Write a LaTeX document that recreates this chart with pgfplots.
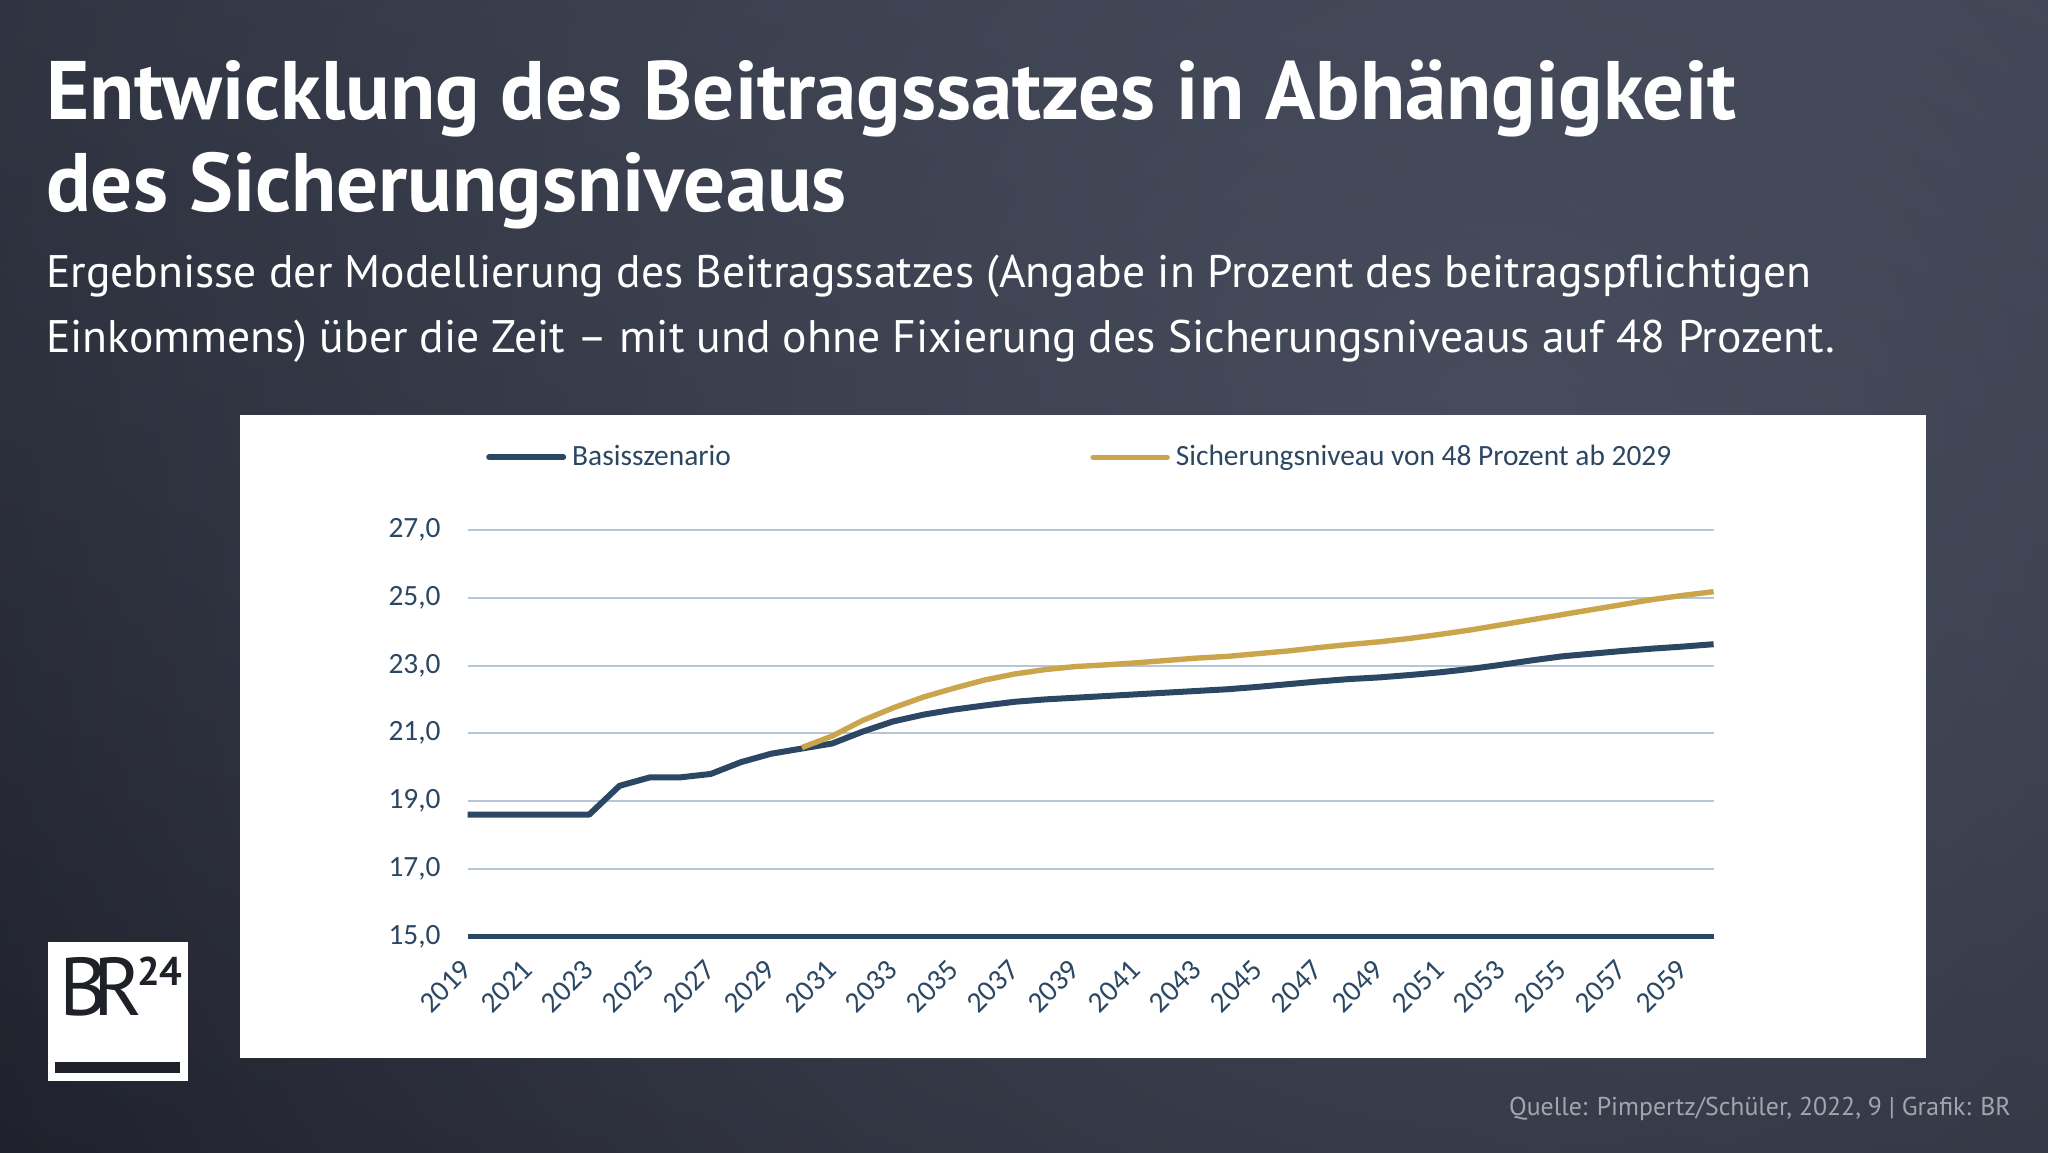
\documentclass[border=0pt]{standalone}
\usepackage{pgfplots}
\pgfplotsset{compat=1.18}
\usetikzlibrary{fadings,shadings}
\usepackage{fontspec}
\setmainfont{PT Sans}
\newfontfamily\carlito{Carlito}
\definecolor{navy}{HTML}{2C4763}
\definecolor{goldc}{HTML}{CBA54C}
\definecolor{gridc}{HTML}{B7C6D6}
\definecolor{spotc}{HTML}{4B5061}
\definecolor{cul}{HTML}{2D313E}
\definecolor{cur}{HTML}{3A3F4E}
\definecolor{cll}{HTML}{1C1E28}
\definecolor{clr}{HTML}{262833}
\definecolor{footc}{HTML}{A3A5AE}
\definecolor{logoc}{HTML}{1F2128}
\tikzfading[name=spotfade, inner color=transparent!0, outer color=transparent!100]
\begin{document}
\begin{tikzpicture}[x=1pt,y=1pt]
\clip (0,0) rectangle (1024,576);
\shade[upper left=cul, upper right=cur, lower left=cll, lower right=clr] (0,0) rectangle (1024,576);
\fill[spotc, path fading=spotfade, fill opacity=0.85] (751,360) circle (900);
% title
\node[anchor=base west, inner sep=0pt, text=white, font=\fontsize{41.5}{46}\selectfont\bfseries] at (22.9,516) {Entwicklung des Beitragssatzes in Abhängigkeit};
\node[anchor=base west, inner sep=0pt, text=white, font=\fontsize{41.5}{46}\selectfont\bfseries] at (22.9,470) {des Sicherungsniveaus};
\node[anchor=base west, inner sep=0pt, text=white, font=\fontsize{22.8}{26}\selectfont] at (22.9,432.3) {Ergebnisse der Modellierung des Beitragssatzes (Angabe in Prozent des beitragspflichtigen};
\node[anchor=base west, inner sep=0pt, text=white, font=\fontsize{22.8}{26}\selectfont] at (22.9,399.7) {Einkommens) über die Zeit – mit und ohne Fixierung des Sicherungsniveaus auf 48 Prozent.};
% footer
\node[anchor=base east, inner sep=0pt, text=footc, font=\fontsize{12.9}{15}\selectfont] at (1005.6,18.4) {Quelle: Pimpertz/Schüler, 2022, 9 | Grafik: BR};
% white panel
\fill[white] (120,47) rectangle (963,368.5);
% logo
\fill[white] (24,35.5) rectangle (94,105);
\fill[logoc] (27.5,39.5) rectangle (90,45);
\node[anchor=base west, inner sep=0pt, text=logoc, font=\fontsize{41}{46}\selectfont] at (29.5,68.5) {B\kern-7ptR};
\node[anchor=base west, inner sep=0pt, text=logoc, font=\fontsize{20}{22}\selectfont\bfseries] at (68.3,83.5) {24};
\begin{axis}[
  at={(233.8pt,107.7pt)}, anchor=south west,
  scale only axis, width=623pt, height=203.3pt,
  xmin=2019, xmax=2060, ymin=15, ymax=27,
  clip=false,
  axis x line*=bottom, axis y line*=left,
  x axis line style={navy, line width=2.5pt, -},
  y axis line style={draw=none},
  xtick={2019,2021,...,2059}, ytick={15,17,...,27},
  major tick length=0pt,
  ymajorgrids, grid style={gridc, line width=1pt},
  /pgf/number format/assume math mode=true,
  tick label style={font=\carlito\fontsize{14.7}{16}\selectfont, text=navy},
  yticklabel style={/pgf/number format/fixed, /pgf/number format/fixed zerofill, /pgf/number format/precision=1, /pgf/number format/use comma, xshift=-10pt},
  xticklabel style={/pgf/number format/1000 sep={}, xshift=-3.8pt, yshift=-5.9pt, rotate=45, anchor=north east},
  legend columns=2,
  legend style={at={(0.0146,1.179)}, anchor=west, draw=none, fill=none,
    font=\carlito\fontsize{14.7}{16}\selectfont, text=navy,
    inner sep=0pt,
    /tikz/every odd column/.append style={column sep=1pt},
    /tikz/every even column/.append style={column sep=177.8pt}},
  legend image code/.code={\draw[#1, line cap=round] (0pt,0pt) -- (37pt,0pt);},
]
\addplot[navy, line width=3pt, line join=round] table {
x y
2019 18.6
2020 18.6
2021 18.6
2022 18.6
2023 18.6
2024 19.45
2025 19.7
2026 19.7
2027 19.8
2028 20.15
2029 20.4
2030 20.55
2031 20.7
2032 21.05
2033 21.35
2034 21.55
2035 21.7
2036 21.82
2037 21.93
2038 22.0
2039 22.05
2040 22.1
2041 22.15
2042 22.2
2043 22.25
2044 22.3
2045 22.37
2046 22.45
2047 22.53
2048 22.6
2049 22.65
2050 22.72
2051 22.8
2052 22.9
2053 23.02
2054 23.15
2055 23.27
2056 23.35
2057 23.43
2058 23.5
2059 23.56
2060 23.63
};
\addlegendentry{Basisszenario}
\addplot[goldc, line width=2.7pt, line join=round] table {
x y
2030 20.58
2031 20.92
2032 21.38
2033 21.75
2034 22.07
2035 22.33
2036 22.57
2037 22.75
2038 22.88
2039 22.97
2040 23.02
2041 23.08
2042 23.15
2043 23.22
2044 23.27
2045 23.35
2046 23.43
2047 23.53
2048 23.62
2049 23.7
2050 23.8
2051 23.92
2052 24.05
2053 24.2
2054 24.35
2055 24.5
2056 24.65
2057 24.8
2058 24.95
2059 25.07
2060 25.18
};
\addlegendentry{Sicherungsniveau von 48 Prozent ab 2029}
\end{axis}
\end{tikzpicture}
\end{document}
